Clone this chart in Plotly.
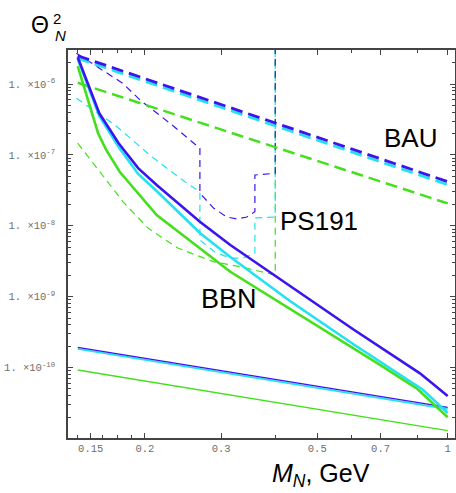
import plotly.graph_objects as go

# ---------------- data ----------------
m_line = [0.14, 1.0]
bau_blue = [2.5e-6, 4.2e-8]
bau_cyan = [2.3e-6, 3.8e-8]
bau_green = [1.04e-6, 2.07e-8]

bbn_blue_m = [0.14, 0.157, 0.174, 0.193, 0.213, 0.237, 0.268, 0.315, 0.4325, 0.605, 0.863, 1.0]
bbn_blue = [2.38e-6, 3.86e-7, 1.46e-7, 6.5e-8, 3.77e-8, 2.19e-8, 1.14e-8, 5.36e-9, 1.4e-9, 3.47e-10, 8.3e-11, 3.98e-11]
bbn_cyan_m = [0.14, 0.157, 0.174, 0.193, 0.213, 0.237, 0.268, 0.315, 0.4325, 0.605, 0.878, 1.0]
bbn_cyan = [2.25e-6, 3.54e-7, 1.29e-7, 5.38e-8, 3.10e-8, 1.62e-8, 7.92e-9, 3.63e-9, 8.69e-10, 2.15e-10, 4.83e-11, 2.29e-11]
bbn_green_m = [0.14, 0.156, 0.163, 0.175, 0.213, 0.268, 0.315, 0.698, 0.848, 1.0]
bbn_green = [1.79e-6, 2.02e-7, 1.17e-7, 5.79e-8, 1.42e-8, 4.82e-9, 2.25e-9, 1.09e-10, 5.1e-11, 1.99e-11]

low_blue = [1.93e-10, 2.75e-11]
low_cyan = [1.84e-10, 2.6e-11]
low_green = [9.25e-11, 1.29e-11]

ps_blue_m = [0.139, 0.178, 0.195, 0.2286, 0.268, 0.268, 0.288, 0.309, 0.3266, 0.344, 0.359, 0.359, 0.4, 0.4]
ps_blue = [2.71e-6, 1.02e-6, 5.94e-7, 2.79e-7, 1.24e-7, 2.9e-8, 1.78e-8, 1.33e-8, 1.25e-8, 1.33e-8, 1.58e-8, 5.21e-8, 5.5e-8, 1e-5]
ps_cyan_m = [0.139, 0.1707, 0.2074, 0.2475, 0.268, 0.268, 0.290, 0.3146, 0.337, 0.359, 0.359, 0.4, 0.4]
ps_cyan = [6.28e-7, 2.64e-7, 9.44e-8, 4.19e-8, 3.0e-8, 6.3e-9, 4.27e-9, 3.51e-9, 3.51e-9, 4.13e-9, 1.29e-8, 1.33e-8, 1e-5]
ps_green_m = [0.14, 0.1576, 0.178, 0.2037, 0.2389, 0.2876, 0.332, 0.4, 0.4]
ps_green = [1.46e-7, 5.79e-8, 2.19e-8, 9.2e-9, 4.82e-9, 3.12e-9, 2.65e-9, 2.02e-9, 1e-5]

x_tickvals = [0.15, 0.2, 0.3, 0.5, 0.7, 1]
x_ticktext = ["0.15", "0.2", "0.3", "0.5", "0.7", "1"]
x_minor = [0.14, 0.16, 0.173, 0.186, 0.4, 0.6, 0.85]
y_exponents = [-10, -9, -8, -7, -6]

BLUE = "#3c14ee"
CYAN = "#22e2f0"
GREEN = "#44e01c"

W, H = 456, 493
L, R, T, B = 68, 1, 50, 55


def px(xp):
    return (xp - L) / (W - L - R)


def py(yp):
    return (H - B - yp) / (H - T - B)


fig = go.Figure()


def add(x, y, color, width, dash="solid"):
    fig.add_trace(go.Scatter(x=x, y=y, mode="lines",
                             line=dict(color=color, width=width, dash=dash),
                             showlegend=False, hoverinfo="skip"))


# PS191 (thin dashed)
add(ps_green_m, ps_green, GREEN, 1.2, "7px,5px")
add(ps_cyan_m, ps_cyan, CYAN, 1.2, "7px,5px")
add(ps_blue_m, ps_blue, BLUE, 1.2, "7px,5px")
# lower straight lines
add(m_line, low_green, GREEN, 1.4)
add(m_line, low_cyan, CYAN, 1.8)
add(m_line, low_blue, BLUE, 1.4)
# BAU (thick dashed)
add(m_line, bau_green, GREEN, 2.5, "12px,6px")
add(m_line, bau_cyan, CYAN, 2.8, "12px,6px")
add(m_line, bau_blue, BLUE, 2.8, "12px,6px")
# BBN (thick solid)
add(bbn_green_m, bbn_green, GREEN, 2.6)
add(bbn_cyan_m, bbn_cyan, CYAN, 2.6)
add(bbn_blue_m, bbn_blue, BLUE, 2.6)

y_minor = []
for e in range(-11, -5):
    for k in range(2, 10):
        v = k * 10 ** e
        if v < 3.1e-6:
            y_minor.append(v)

tickfont = dict(family="Liberation Mono, DejaVu Sans Mono, monospace", size=10.5, color="#6e6e6e")
axcol = "#444444"

fig.update_xaxes(type="log", range=[-0.8763, 0.0169], automargin=False,
                 tickvals=x_tickvals, ticktext=x_ticktext,
                 ticks="inside", ticklen=5, tickcolor=axcol, tickwidth=1,
                 showline=True, linecolor=axcol, linewidth=1.5, mirror="allticks",
                 showgrid=False, zeroline=False, tickfont=tickfont, ticklabelstandoff=0,
                 minor=dict(tickvals=x_minor, ticks="inside", ticklen=3, tickcolor=axcol, showgrid=False))
fig.update_yaxes(type="log", range=[-10.993, -5.5205], automargin=False,
                 tickvals=[10.0 ** e for e in y_exponents],
                 ticktext=["1. ×10<sup>%d</sup>" % e for e in y_exponents],
                 ticks="inside", ticklen=5, tickcolor=axcol, tickwidth=1,
                 showline=True, linecolor=axcol, linewidth=1.5, mirror="allticks",
                 showgrid=False, zeroline=False, tickfont=tickfont, ticklabelstandoff=9,
                 minor=dict(tickvals=y_minor, ticks="inside", ticklen=3, tickcolor=axcol, showgrid=False))

big = "Liberation Sans, Arial, sans-serif"
ann = [
    dict(text="Θ", x=px(39.5), y=py(25), size=23),
    dict(text="2", x=px(57), y=py(18), size=15),
    dict(text="<i>N</i>", x=px(60), y=py(36), size=15),
    dict(text="BAU", x=px(410), y=py(138), size=26),
    dict(text="PS191", x=px(319), y=py(221), size=26),
    dict(text="BBN", x=px(229), y=py(299), size=27),
    dict(text="<i>M</i><sub><i>N</i></sub>, GeV", x=px(321), y=py(475), size=25),
]
for a in ann:
    fig.add_annotation(text=a["text"], x=a["x"], y=a["y"], xref="paper", yref="paper",
                       xanchor="center", yanchor="middle", showarrow=False,
                       font=dict(family=big, size=a["size"], color="black"))

fig.update_layout(width=W, height=H, margin=dict(l=L, r=R, t=T, b=B),
                  paper_bgcolor="white", plot_bgcolor="white")

fig.write_html("out.html", config={"displayModeBar": False},
               post_script="document.body.style.margin='0';document.body.style.padding='0';")
